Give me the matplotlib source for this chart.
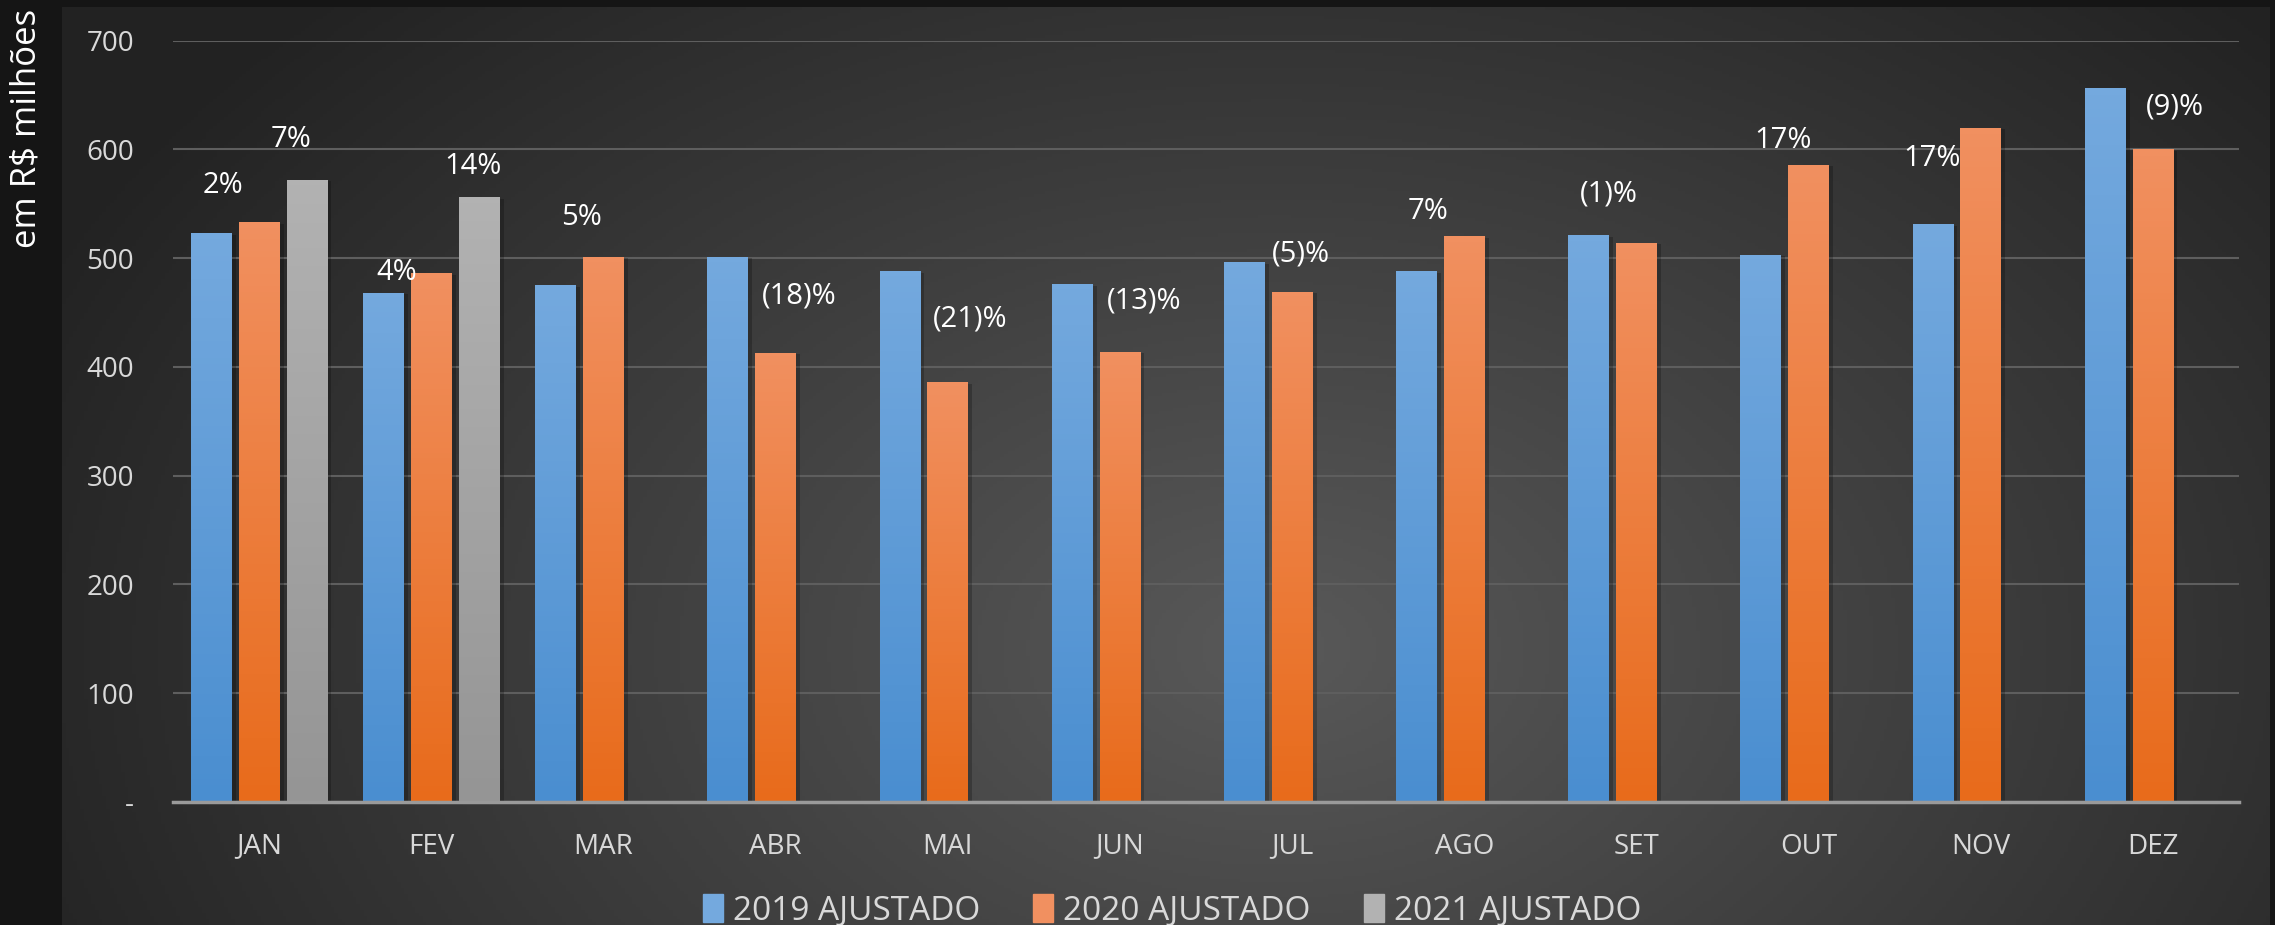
import matplotlib
matplotlib.use("Agg")
import matplotlib.pyplot as plt
import matplotlib.patheffects as pe
import numpy as np
from matplotlib.colors import to_rgb
from matplotlib.patches import Rectangle

plt.rcParams["font.family"] = ["Liberation Sans Narrow", "Open Sans", "DejaVu Sans"]

months = ["JAN", "FEV", "MAR", "ABR", "MAI", "JUN", "JUL", "AGO", "SET", "OUT", "NOV", "DEZ"]
series_names = ["2019 AJUSTADO", "2020 AJUSTADO", "2021 AJUSTADO"]
v2019 = [523, 468, 475, 501, 488, 476, 496, 488, 521, 503, 531, 656]
v2020 = [533, 486, 501, 413, 386, 414, 469, 520, 514, 586, 620, 600]
v2021 = [572, 556, np.nan, np.nan, np.nan, np.nan, np.nan, np.nan, np.nan, np.nan, np.nan, np.nan]

# variation labels: (month index, text, x offset in category units, label height)
var_labels = [
    (0, "2%", -0.21, 567), (0, "7%", 0.185, 609),
    (1, "4%", -0.20, 487), (1, "14%", 0.24, 584),
    (2, "5%", -0.13, 537),
    (3, "(18)%", 0.14, 465),
    (4, "(21)%", 0.13, 444),
    (5, "(13)%", 0.14, 461),
    (6, "(5)%", 0.05, 504),
    (7, "7%", -0.21, 543),
    (8, "(1)%", -0.16, 559),
    (9, "17%", -0.15, 608),
    (10, "17%", -0.28, 592),
    (11, "(9)%", 0.13, 639),
]

grad_colors = [
    ("#74a9de", "#4a8ed0"),
    ("#f19060", "#e86b1b"),
    ("#b2b2b2", "#959595"),
]

W, H = 2275, 925
fig = plt.figure(figsize=(W / 100, H / 100), dpi=100, facecolor="#151515")

# background panel with radial gradient
bg = fig.add_axes([62 / W, 0, (2270 - 62) / W, 1 - 7 / H])
bg.set_axis_off()
gx, gy = np.meshgrid(np.linspace(0, 1, 600), np.linspace(0, 1, 300))
d = np.sqrt(((gx - 0.55) / 0.62) ** 2 + ((gy - 0.3) / 1.0) ** 2)
t = np.clip(d, 0, 1)[..., None]
c_in = np.array(to_rgb("#595959"))
c_out = np.array(to_rgb("#222222"))
bg.imshow(c_in * (1 - t) + c_out * t, extent=[0, 1, 0, 1], origin="lower", aspect="auto")

ax = fig.add_axes([173 / W, (H - 802) / H, (2239 - 173) / W, (802 - 40.6) / H])
ax.set_facecolor("none")

x = np.arange(len(months))
width = 0.236
offsets = [-0.278, 0.0, 0.278]
all_vals = [v2019, v2020, v2021]
handles = []
for vals, off, (ctop, cbot), name in zip(all_vals, offsets, grad_colors, series_names):
    bars = ax.bar(x + off, vals, width, color=cbot, label=name, zorder=3,
                  path_effects=[pe.SimplePatchShadow(offset=(3, -1), shadow_rgbFace="black", alpha=0.22),
                                pe.Normal()])
    grad = np.linspace(0, 1, 100)[:, None, None]
    img = np.array(to_rgb(ctop)) * (1 - grad) + np.array(to_rgb(cbot)) * grad
    for b in bars:
        h = b.get_height()
        if not np.isfinite(h):
            continue
        im = ax.imshow(img, extent=[b.get_x(), b.get_x() + b.get_width(), 0, h],
                       origin="upper", aspect="auto", zorder=4)
        im.set_clip_path(b)
    handles.append(Rectangle((0, 0), 1, 1, color=ctop))

for i, txt, dx, yv in var_labels:
    ax.text(i + dx, yv, txt, ha="center", va="center", color="white", fontsize=21, zorder=5)

ax.set_xlim(-0.5, len(months) - 0.5)
ax.set_ylim(0, 700)
ax.set_yticks(range(0, 701, 100))
ax.set_yticklabels(["-"] + [str(v) for v in range(100, 701, 100)])
ax.set_xticks(x)
ax.set_xticklabels(months)
ax.tick_params(axis="both", length=0, colors="#d9d9d9", labelsize=20)
ax.tick_params(axis="y", pad=28)
ax.tick_params(axis="x", pad=22)
ax.grid(axis="y", color="#5e5e5e", linewidth=1.5, zorder=0)
for s in ["top", "right", "left"]:
    ax.spines[s].set_visible(False)
ax.spines["bottom"].set_color("#9a9a9a")
ax.spines["bottom"].set_linewidth(2.5)
ax.spines["bottom"].set_zorder(6)

fig.text(27 / W, (H - 128) / H, "em R$ milhões", rotation=90, ha="center", va="center",
         color="white", fontsize=25, family=["Open Sans", "DejaVu Sans"])

leg = fig.legend(handles, series_names, loc="center", bbox_to_anchor=(1172 / W, (H - 911) / H),
                 ncol=3, frameon=False, fontsize=24, labelcolor="#d9d9d9",
                 handlelength=0.6, handleheight=0.9, handletextpad=0.3, columnspacing=1.6)

fig.savefig("out.png", dpi=100, facecolor=fig.get_facecolor())
